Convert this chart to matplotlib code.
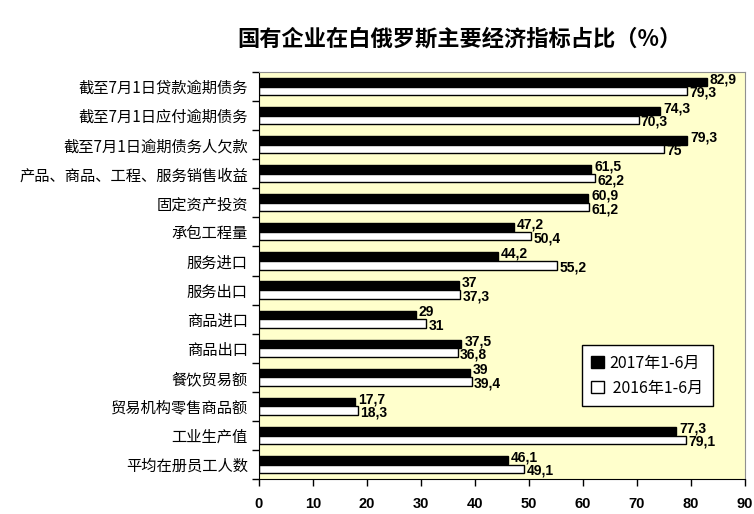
import numpy as np
from matplotlib import pyplot as plt
from matplotlib.patches import Patch

plt.rcParams['font.family'] = ['Noto Sans CJK SC', 'DejaVu Sans']

categories = ['截至7月1日贷款逾期债务', '截至7月1日应付逾期债务', '截至7月1日逾期债务人欠款',
              '产品、商品、工程、服务销售收益', '固定资产投资', '承包工程量', '服务进口',
              '服务出口', '商品进口', '商品出口', '餐饮贸易额', '贸易机构零售商品额',
              '工业生产值', '平均在册员工人数']
values_2017 = [82.9, 74.3, 79.3, 61.5, 60.9, 47.2, 44.2, 37, 29, 37.5, 39, 17.7, 77.3, 46.1]
values_2016 = [79.3, 70.3, 75, 62.2, 61.2, 50.4, 55.2, 37.3, 31, 36.8, 39.4, 18.3, 79.1, 49.1]
series_names = ['2017年1-6月', ' 2016年1-6月']
x_ticks = [0, 10, 20, 30, 40, 50, 60, 70, 80, 90]

num_font = ['Liberation Sans Narrow', 'Liberation Sans', 'DejaVu Sans']


def fmt(v):
    # comma as decimal separator
    s = ('%g' % v)
    return s.replace('.', ',')


fig = plt.figure(figsize=(7.54, 5.14), dpi=100)
ax = fig.add_axes([0.3435, 0.068, 0.6445, 0.792])
ax.set_facecolor('#FFFFCC')

y = np.arange(len(categories))
h = 0.29
ax.barh(y - 0.15, values_2017, height=h, color='black', edgecolor='black', linewidth=1)
ax.barh(y + 0.15, values_2016, height=h, color='white', edgecolor='black', linewidth=1)

# value labels
for i in range(len(categories)):
    ax.text(values_2017[i] + 0.6, y[i] - 0.24, fmt(values_2017[i]), va='center', ha='left',
            fontsize=10, fontweight='bold', family=num_font)
    ax.text(values_2016[i] + 0.4, y[i] + 0.22, fmt(values_2016[i]), va='center', ha='left',
            fontsize=10, fontweight='bold', family=num_font)

ax.set_xlim(0, 90)
ax.set_ylim(len(categories) - 0.5, -0.5)
ax.set_xticks(x_ticks)
ax.set_xticklabels([str(t) for t in x_ticks], fontsize=10.5, fontweight='bold', family=num_font)
ax.tick_params(axis='x', length=5, width=1, pad=8)

# ticks on category boundaries, labels centred
ax.set_yticks(np.arange(len(categories) + 1) - 0.5)
ax.set_yticklabels([])
ax.set_yticks(y, minor=True)
ax.set_yticklabels(categories, minor=True, fontsize=11)
ax.tick_params(axis='y', which='minor', length=0, pad=8)
ax.tick_params(axis='y', which='major', length=5, width=1)

for side in ['top', 'right']:
    ax.spines[side].set_color('#909090')
for side in ['left', 'bottom']:
    ax.spines[side].set_color('black')

handles = [Patch(facecolor='black', edgecolor='black'),
           Patch(facecolor='white', edgecolor='black')]
leg = ax.legend(handles, series_names, loc='upper left', bbox_to_anchor=(0.648, 0.349),
                fancybox=False, framealpha=1, edgecolor='black', fontsize=11.5,
                handlelength=0.8, handleheight=0.8, handletextpad=0.3, borderpad=0.6,
                labelspacing=0.5)
leg.get_frame().set_linewidth(1)

fig.text(0.61, 0.925, '国有企业在白俄罗斯主要经济指标占比（%）', ha='center', va='center',
         fontsize=16, fontweight='bold')

fig.savefig('out.png', dpi=100)
